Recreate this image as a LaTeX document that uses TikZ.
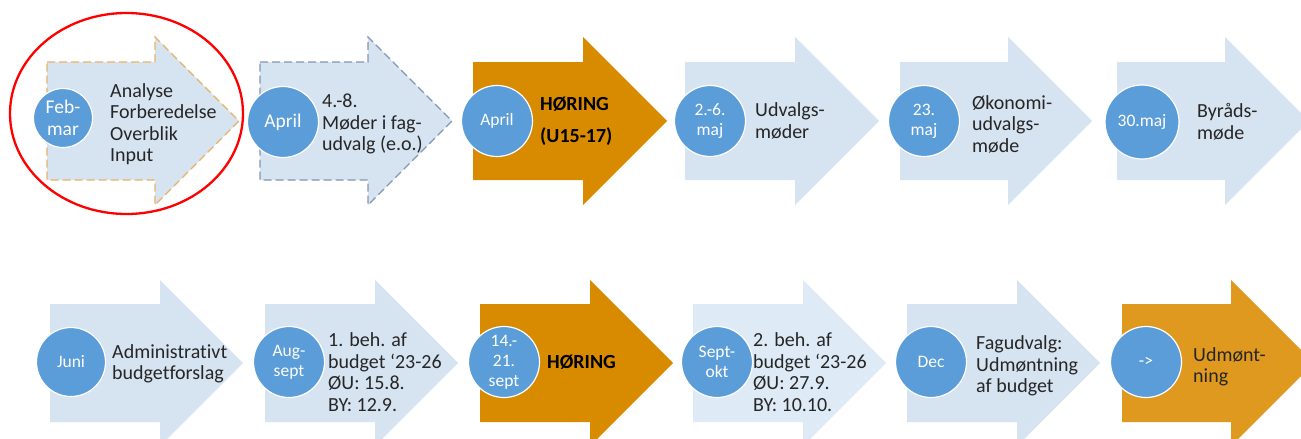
\documentclass[tikz,border=0pt]{standalone}
\usepackage{fontspec}
\setmainfont{Carlito}[Ligatures={NoCommon}]
\usepackage{tikz}
\usepackage{xcolor}

\definecolor{pilblaa}{RGB}{214,227,241}
\definecolor{pillys}{RGB}{222,235,247}
\definecolor{pilorange}{RGB}{217,139,0}
\definecolor{pilorangelys}{RGB}{223,153,30}
\definecolor{datoblaa}{RGB}{91,157,216}
\definecolor{kantorange}{RGB}{232,178,100}
\definecolor{kantgraa}{RGB}{132,150,176}
\definecolor{tekstgraa}{RGB}{38,38,38}

\begin{document}
\begin{tikzpicture}[x=1pt,y=-1pt,
    pil/.style={fill=pilblaa},
    dato/.style={circle,fill=datoblaa,draw=white,line width=1.2pt,inner sep=0pt,
        minimum size=71pt,text=white,align=center,font=\fontsize{17.5}{20}\selectfont},
    tekst/.style={anchor=west,inner sep=0pt,align=left,text=tekstgraa,
        font=\fontsize{20}{21.5}\selectfont},
    fed/.style={tekst,text=black,font=\fontsize{20}{32}\selectfont\bfseries}]
        \clip (0,0) rectangle (1301,439);
        % row 1
        \draw[pil,draw=kantorange,line width=1.3pt,dash pattern=on 8pt off 4pt] (47,62) -- (155,62) -- (155,37) -- (239,121) -- (155,205) -- (155,180) -- (47,180) -- cycle;
        \draw[pil,draw=kantgraa,line width=1.3pt,dash pattern=on 8pt off 4pt] (260,62) -- (368,62) -- (368,37) -- (452,121) -- (368,205) -- (368,180) -- (260,180) -- cycle;
        \fill[pilorange] (473,62) -- (583,62) -- (583,37) -- (667,121) -- (583,205) -- (583,180) -- (473,180) -- cycle;
        \fill[pil] (685,62) -- (795,62) -- (795,37) -- (879,121) -- (795,205) -- (795,180) -- (685,180) -- cycle;
        \fill[pil] (900,62) -- (1008,62) -- (1008,37) -- (1092,121) -- (1008,205) -- (1008,180) -- (900,180) -- cycle;
        \fill[pil] (1117,62) -- (1225,62) -- (1225,37) -- (1309,121) -- (1225,205) -- (1225,180) -- (1117,180) -- cycle;
        % row 2
        \fill[pil] (50,304) -- (160,304) -- (160,280) -- (243,363) -- (160,446) -- (160,422) -- (50,422) -- cycle;
        \fill[pil] (265,304) -- (375,304) -- (375,280) -- (458,363) -- (375,446) -- (375,422) -- (265,422) -- cycle;
        \fill[pilorange] (480,304) -- (590,304) -- (590,280) -- (673,363) -- (590,446) -- (590,422) -- (480,422) -- cycle;
        \fill[pillys] (693,304) -- (803,304) -- (803,280) -- (886,363) -- (803,446) -- (803,422) -- (693,422) -- cycle;
        \fill[pil] (907,304) -- (1017,304) -- (1017,280) -- (1100,363) -- (1017,446) -- (1017,422) -- (907,422) -- cycle;
        \fill[pilorangelys] (1122,304) -- (1231,304) -- (1231,280) -- (1314,363) -- (1231,446) -- (1231,422) -- (1122,422) -- cycle;

        \node[dato,minimum size=59pt,font=\fontsize{19.5}{22}\selectfont] (feb) at (63,118) {Feb-\\mar};
        \node[dato,font=\fontsize{19.5}{22}\selectfont] (april) at (283,122) {April};
        \node[dato] (aprilh) at (497,121) {April};
        \node[dato] (maj) at (710,121) {2.-6.\\maj};
        \node[dato] (majoek) at (924,121) {23.\\maj};
        \node[dato,minimum size=74pt] (majby) at (1142,122) {30.maj};
        \node[dato,minimum size=69pt] (juni) at (71,362) {Juni};
        \node[dato] (aug) at (289,362) {Aug-\\sept};
        \node[dato] (sept) at (504,362) {14.-\\21.\\sept};
        \node[dato] (okt) at (717,362) {Sept-\\okt};
        \node[dato] (dec) at (931,362) {Dec};
        \node[dato] (udm) at (1146,362) {->};

        \node[tekst] (analyse) at (110,124) {Analyse\\Forberedelse\\Overblik\\Input};
        \node[tekst] (moeder) at (322,124) {4.-8.\\Møder i fag-\\udvalg (e.o.)};
        \node[fed] (hoering) at (540,121) {HØRING\\(U15-17)};
        \node[tekst] (udvalg) at (755,121) {Udvalgs-\\møder};
        \node[tekst] (oekonomi) at (972,124) {Økonomi-\\udvalgs-\\møde};
        \node[tekst] (byraad) at (1197,122) {Byråds-\\møde};
        \node[tekst] (forslag) at (112,364) {Administrativt\\budgetforslag};
        \node[tekst] (beh1) at (328,372) {1. beh. af\\budget ‘23-26\\ØU: 15.8.\\BY: 12.9.};
        \node[fed] (hoering2) at (547,362) {HØRING};
        \node[tekst] (beh2) at (753,372) {2. beh. af\\budget ‘23-26\\ØU: 27.9.\\BY: 10.10.};
        \node[tekst] (fagudvalg) at (976,366) {Fagudvalg:\\Udmøntning\\af budget};
        \node[tekst] (udmoent) at (1193,367) {Udmønt-\\ning};

        \draw[red,line width=2.3pt] (126.5,113.5) ellipse (116.5 and 100.5);
    \end{tikzpicture}
\end{document}
